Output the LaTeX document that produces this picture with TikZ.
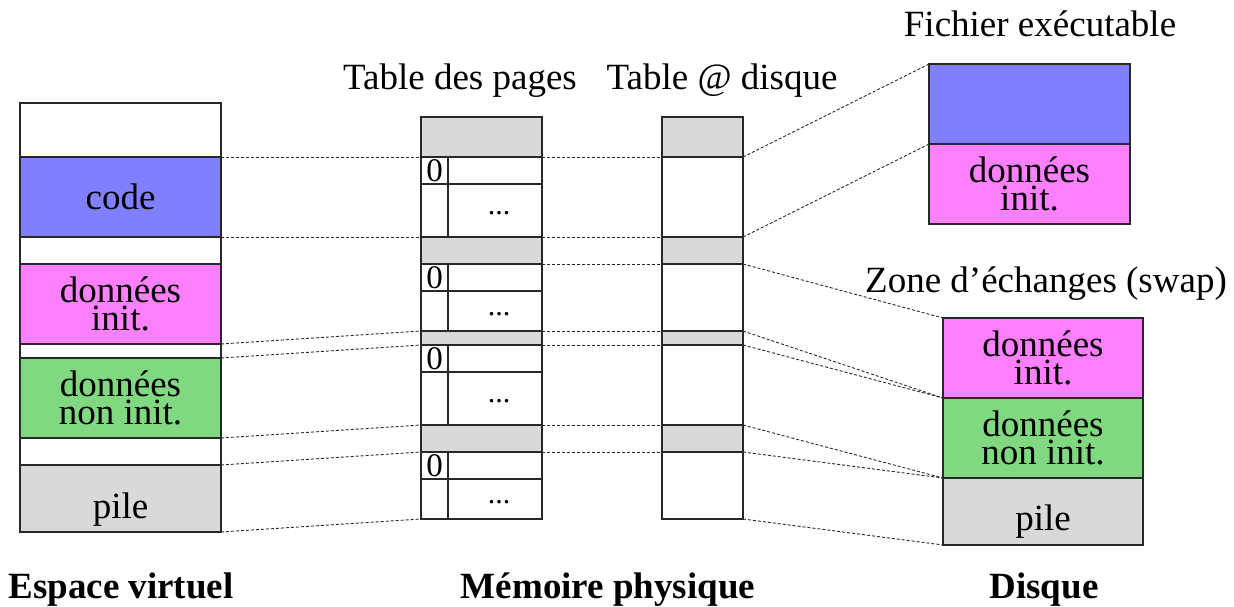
\documentclass[tikz,border=0pt]{standalone}
\usepackage{fontspec}
\setmainfont{Liberation Serif}
\definecolor{codeblue}{RGB}{128,128,255}
\definecolor{datapink}{RGB}{255,128,255}
\definecolor{bssgreen}{RGB}{128,217,128}
\definecolor{cellgrey}{RGB}{217,217,217}
\definecolor{edge}{RGB}{40,40,40}
\newcommand{\bigtxt}{\fontsize{37pt}{28pt}\selectfont}
\newcommand{\smalltxt}{\fontsize{33pt}{33pt}\selectfont}
\tikzset{
  blk/.style={draw=edge, line width=1.6pt, inner sep=0pt, outer sep=0pt,
              anchor=north west, font=\bigtxt, align=center},
  greyblk/.style={blk, fill=cellgrey},
  lbl/.style={inner sep=0pt, font=\bigtxt},
  title/.style={inner sep=0pt, anchor=base, font=\bigtxt},
  head/.style={inner sep=0pt, anchor=base, font=\bigtxt\bfseries},
  link/.style={draw=edge, line width=0.9pt, dash pattern=on 3pt off 2pt}
}
\begin{document}
\begin{tikzpicture}[x=1pt,y=-1pt]
\useasboundingbox (0,0) rectangle (1234,607);

% virtual address space
\node[blk, minimum width=201pt, minimum height=54pt] (vtop) at (20,103) {};
\node[blk, fill=codeblue, minimum width=201pt, minimum height=80pt] (vcode) at (20,157) {code};
\node[blk, minimum width=201pt, minimum height=27pt] (vgapa) at (20,237) {};
\node[blk, fill=datapink, minimum width=201pt, minimum height=80pt] (vinit) at (20,264) {données\\init.};
\node[blk, minimum width=201pt, minimum height=14pt] (vgapb) at (20,344) {};
\node[blk, fill=bssgreen, minimum width=201pt, minimum height=80pt] (vbss) at (20,358) {données\\non init.};
\node[blk, minimum width=201pt, minimum height=27pt] (vgapc) at (20,438) {};
\node[greyblk, minimum width=201pt, minimum height=67pt] (vpile) at (20,465) {};
\node[lbl, yshift=-11pt] (vpilet) at (vpile.center) {pile};

% page table: grey entries
\node[greyblk, minimum width=121pt, minimum height=40pt] (pg1) at (421,117) {};
\node[greyblk, minimum width=121pt, minimum height=27pt] (pg2) at (421,237) {};
\node[greyblk, minimum width=121pt, minimum height=14pt] (pg3) at (421,331) {};
\node[greyblk, minimum width=121pt, minimum height=27pt] (pg4) at (421,425) {};
% page table: white entries, each split into a bit column and a frame column
\foreach \i/\t/\h in {1/157/80, 2/264/67, 3/345/80, 4/452/67}{
  \node[blk, minimum width=121pt, minimum height=\h pt] (pw\i) at (421,\t) {};
  \node[blk, minimum width=27pt, minimum height=27pt, font=\smalltxt] (pz\i) at (421,\t) {0};
  \node[blk, minimum width=27pt, minimum height=\h pt-27pt] (pl\i) at (421,\t+27) {};
  \node[blk, minimum width=94pt, minimum height=27pt] (pr\i) at (448,\t) {};
  \node[blk, minimum width=94pt, minimum height=\h pt-27pt] (pc\i) at (448,\t+27) {};
  \node[lbl, font=\fontsize{30pt}{30pt}\selectfont, xshift=4pt, yshift=-3pt] (pd\i) at (pc\i.center) {...};
}

% disk address table
\node[greyblk, minimum width=81pt, minimum height=40pt] (dg1) at (662,117) {};
\node[blk, minimum width=81pt, minimum height=80pt] (dw1) at (662,157) {};
\node[greyblk, minimum width=81pt, minimum height=27pt] (dg2) at (662,237) {};
\node[blk, minimum width=81pt, minimum height=67pt] (dw2) at (662,264) {};
\node[greyblk, minimum width=81pt, minimum height=14pt] (dg3) at (662,331) {};
\node[blk, minimum width=81pt, minimum height=80pt] (dw3) at (662,345) {};
\node[greyblk, minimum width=81pt, minimum height=27pt] (dg4) at (662,425) {};
\node[blk, minimum width=81pt, minimum height=67pt] (dw4) at (662,452) {};

% executable file
\node[blk, fill=codeblue, minimum width=201pt, minimum height=80pt] (fcode) at (929,64) {};
\node[blk, fill=datapink, minimum width=201pt, minimum height=80pt] (finit) at (929,144) {données\\init.};

% swap area
\node[blk, fill=datapink, minimum width=200pt, minimum height=80pt] (sinit) at (943,318) {données\\init.};
\node[blk, fill=bssgreen, minimum width=200pt, minimum height=80pt] (sbss) at (943,398) {données\\non init.};
\node[greyblk, minimum width=200pt, minimum height=67pt] (spile) at (943,478) {};
\node[lbl, yshift=-10pt] (spilet) at (spile.center) {pile};

% titles
\node[title] (tpt) at (460,90) {Table des pages};
\node[title] (tdt) at (722,90) {Table @ disque};
\node[title] (tfe) at (1040,37) {Fichier exécutable};
\node[title] (tsw) at (1046,292) {Zone d’échanges (swap)};
\node[head] (hve) at (121,598) {Espace virtuel};
\node[head] (hmp) at (608,598) {Mémoire physique};
\node[head] (hdk) at (1044,598) {Disque};

% virtual space -> page table
\draw[link] (vcode.north east) -- (pw1.north west);
\draw[link] (vcode.south east) -- (pg2.north west);
\draw[link] (vinit.south east) -- (pg3.north west);
\draw[link] (vbss.north east) -- (pw3.north west);
\draw[link] (vbss.south east) -- (pg4.north west);
\draw[link] (vpile.north east) -- (pw4.north west);
\draw[link] (vpile.south east) -- (pw4.south west);

% page table -> disk address table
\draw[link] (pw1.north east) -- (dw1.north west);
\draw[link] (pg2.north east) -- (dg2.north west);
\draw[link] (pg2.south east) -- (dg2.south west);
\draw[link] (pg3.north east) -- (dg3.north west);
\draw[link] (pg3.south east) -- (dg3.south west);
\draw[link] (pg4.north east) -- (dg4.north west);
\draw[link] (pg4.south east) -- (dg4.south west);

% disk address table -> executable file
\draw[link] (dg1.south east) -- (fcode.north west);
\draw[link] (dg2.north east) -- (fcode.south west);

% disk address table -> swap area
\draw[link] (dg2.south east) -- (sinit.north west);
\draw[link] (dg3.north east) -- (sinit.south west);
\draw[link] (dg3.south east) -- (sinit.south west);
\draw[link] (dg4.north east) -- (sbss.south west);
\draw[link] (dg4.south east) -- (sbss.south west);
\draw[link] (dw4.south east) -- (spile.south west);
\end{tikzpicture}
\end{document}
